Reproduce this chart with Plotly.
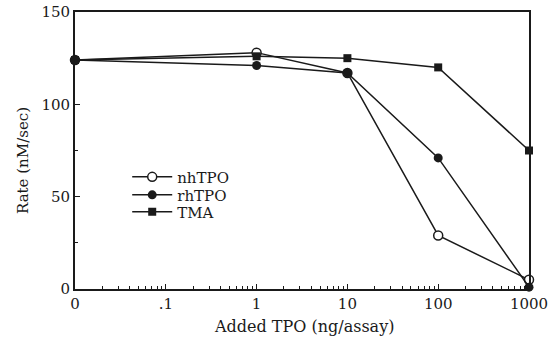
import plotly.graph_objects as go

# Data
dose_labels = ["0", ".1", "1", "10", "100", "1000"]
dose_tickvals = [0.01, 0.1, 1, 10, 100, 1000]   # "0" drawn at the 0.01 position of the log axis
x_dose = [0.01, 1, 10, 100, 1000]
nhTPO = [124, 128, 117, 29, 5]
rhTPO = [124, 121, 117, 71, 1]
TMA = [124, 126, 125, 120, 75]

FONT = "DejaVu Serif"
INK = "#1a1a1a"

fig = go.Figure()
fig.add_trace(go.Scatter(x=x_dose, y=nhTPO, name="nhTPO", mode="lines+markers",
                         line=dict(color=INK, width=1.5),
                         marker=dict(symbol="circle", size=9, color="white",
                                     line=dict(color=INK, width=1.5)),
                         cliponaxis=False, legend="legend"))
fig.add_trace(go.Scatter(x=x_dose, y=rhTPO, name="rhTPO", mode="lines+markers",
                         line=dict(color=INK, width=1.5),
                         marker=dict(symbol="circle", size=9, color=INK),
                         cliponaxis=False, legend="legend2"))
fig.add_trace(go.Scatter(x=x_dose, y=TMA, name="TMA", mode="lines+markers",
                         line=dict(color=INK, width=1.5),
                         marker=dict(symbol="square", size=8, color=INK),
                         cliponaxis=False, legend="legend3"))

leg_common = dict(x=0.115, xanchor="left", yanchor="middle",
                  bgcolor="rgba(0,0,0,0)", font=dict(family=FONT, size=15),
                  itemwidth=40)

fig.update_layout(
    width=554, height=338,
    margin=dict(l=75, r=25, t=12, b=49, autoexpand=False),
    paper_bgcolor="white", plot_bgcolor="white",
    font=dict(family=FONT, size=15, color=INK),
    showlegend=True,
    legend=dict(y=0.404, **leg_common),
    legend2=dict(y=0.339, **leg_common),
    legend3=dict(y=0.278, **leg_common),
)
fig.update_xaxes(type="log", range=[-2, 3], automargin=False,
                 tickvals=dose_tickvals, ticktext=dose_labels,
                 ticks="inside", ticklen=5, tickwidth=1.2, tickcolor=INK,
                 minor=dict(ticks="inside", ticklen=3, tickwidth=1, tickcolor=INK, dtick="D1"),
                 showline=True, linecolor=INK, linewidth=1.8, mirror=True,
                 showgrid=False, zeroline=False,
                 tickfont=dict(family=FONT, size=15))
fig.update_yaxes(range=[0, 150], tickvals=[0, 50, 100, 150], automargin=False,
                 ticks="inside", ticklen=5, tickwidth=1.2, tickcolor=INK,
                 minor=dict(ticks="inside", ticklen=3, tickwidth=1, tickcolor=INK, dtick=25),
                 showline=True, linecolor=INK, linewidth=1.8, mirror=True,
                 showgrid=False, zeroline=False,
                 tickfont=dict(family=FONT, size=15))

fig.add_annotation(text="Added TPO (ng/assay)", xref="paper", yref="paper",
                   x=0.505, y=-0.135, xanchor="center", yanchor="middle",
                   showarrow=False, font=dict(family=FONT, size=16))
fig.add_annotation(text="Rate (nM/sec)", xref="paper", yref="paper",
                   x=-0.115, y=0.465, xanchor="center", yanchor="middle", textangle=-90,
                   showarrow=False, font=dict(family=FONT, size=15))

fig.write_html("out.html", config={"displayModeBar": False},
               post_script="document.body.style.margin='0px';document.body.style.padding='0px';")
